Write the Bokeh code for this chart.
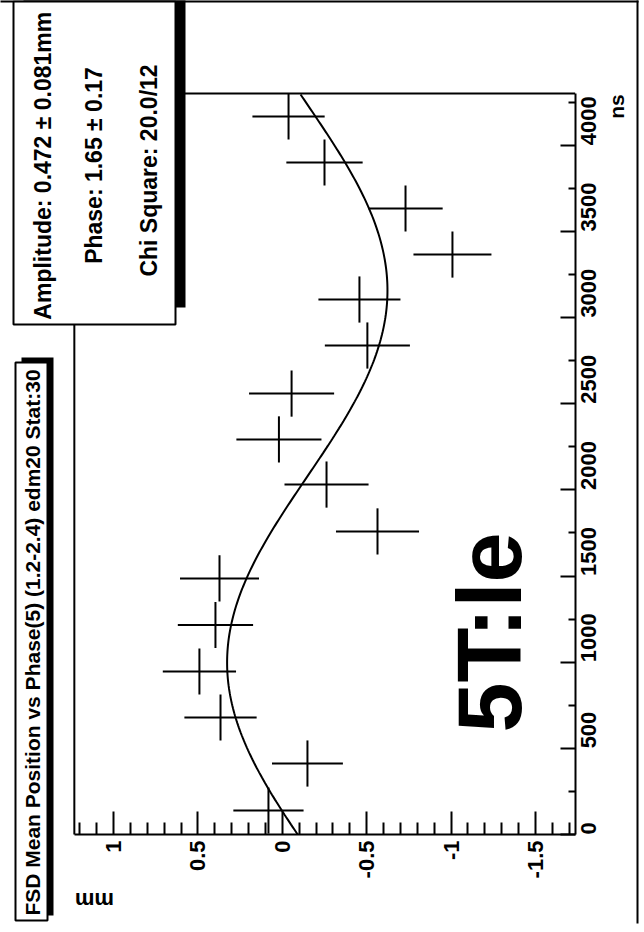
import math
import numpy as np
from bokeh.plotting import figure
from bokeh.models import Range1d, FixedTicker, Label, BoxAnnotation
from bokeh.embed import file_html
from bokeh.resources import INLINE

# ---------------- data ----------------
ns = [139, 412, 679, 946, 1216, 1486, 1759, 2031, 2293, 2559, 2838, 3105, 3366, 3633, 3900, 4167]
ns_err = [134, 134, 134, 134, 134, 134, 134, 134, 134, 134, 134, 134, 134, 134, 134, 134]
mm = [0.082, -0.149, 0.366, 0.491, 0.396, 0.372, -0.564, -0.262, 0.020, -0.055,
      -0.504, -0.457, -1.008, -0.730, -0.250, -0.037]
mm_err = [0.208, 0.210, 0.214, 0.217, 0.223, 0.234, 0.246, 0.249, 0.252, 0.252,
          0.252, 0.243, 0.231, 0.220, 0.226, 0.214]

mm_ticks = [1, 0.5, 0, -0.5, -1, -1.5]
mm_tick_labels = ["1", "0.5", "0", "-0.5", "-1", "-1.5"]
mm_minor = [-1.7, -1.6, -1.4, -1.3, -1.2, -1.1, -0.9, -0.8, -0.7, -0.6, -0.4, -0.3,
            -0.2, -0.1, 0.1, 0.2, 0.3, 0.4, 0.6, 0.7, 0.8, 0.9, 1.1, 1.2]
ns_ticks = [0, 500, 1000, 1500, 2000, 2500, 3000, 3500, 4000]
ns_tick_labels = ["0", "500", "1000", "1500", "2000", "2500", "3000", "3500", "4000"]
ns_minor = [250, 750, 1250, 1750, 2250, 2750, 3250, 3750, 4250]

# plot box limits (axis extents)
mm_min, mm_max = -1.735, 1.232
ns_min, ns_max = 0, 4300

# fit function parameters (curve drawn as in the picture)
fit_offset = -0.148
fit_amplitude = 0.475
fit_period = 4320.0
fit_phase = 0.12
fit_t = np.linspace(0, 4295, 300)
fit_mm = fit_offset + fit_amplitude * np.sin(2 * math.pi * fit_t / fit_period + fit_phase)

title_text = "FSD Mean Position vs Phase(5) (1.2-2.4) edm20 Stat:30"
stat_lines = ["Amplitude: 0.472 \u00b1  0.081mm", "Phase: 1.65 \u00b1 0.17", "Chi Square: 20.0/12"]
note_text = "5T:le"

FONT = "Liberation Sans"

# ---------------- layout ----------------
W, H = 640, 928
# page pixel of value 0 mm and pixels per mm; page pixel of 0 ns and pixels per ns
X0, XS = 281.8, 168.8
Y0, YS = 834.0, 0.1723


def sx(px):
    return px


def sy(py):
    return H - py


p = figure(width=W, height=H, output_backend="svg", toolbar_location=None,
           x_range=Range1d(X0 / XS, (X0 - W) / XS),
           y_range=Range1d((Y0 - H) / YS, Y0 / YS),
           x_axis_location="below", y_axis_location="right")
p.min_border = 0
p.min_border_left = 0
p.min_border_right = 0
p.min_border_top = 0
p.min_border_bottom = 0
p.background_fill_color = "white"
p.border_fill_color = "white"
p.outline_line_color = None
p.xgrid.visible = False
p.ygrid.visible = False

xa = p.xaxis[0]
xa.fixed_location = ns_min
xa.bounds = (mm_min, mm_max)
xa.ticker = FixedTicker(ticks=mm_ticks, minor_ticks=mm_minor)
xa.major_label_overrides = {t: l for t, l in zip(mm_ticks, mm_tick_labels)}
xa.major_label_orientation = math.pi / 2
xa.major_tick_in = 23
xa.major_tick_out = 0
xa.minor_tick_in = 12
xa.minor_tick_out = 0
xa.major_label_standoff = 6

ya = p.yaxis[0]
ya.fixed_location = mm_min
ya.bounds = (ns_min, ns_max)
ya.ticker = FixedTicker(ticks=ns_ticks, minor_ticks=ns_minor)
ya.major_label_overrides = {t: l for t, l in zip(ns_ticks, ns_tick_labels)}
ya.major_label_orientation = math.pi / 2
ya.major_tick_in = 15
ya.major_tick_out = 0
ya.minor_tick_in = 7
ya.minor_tick_out = 0
ya.major_label_standoff = 13

for ax in (xa, ya):
    ax.axis_line_width = 2
    ax.axis_line_color = "black"
    ax.major_tick_line_width = 2
    ax.minor_tick_line_width = 2
    ax.major_tick_line_color = "black"
    ax.minor_tick_line_color = "black"
    ax.major_label_text_font = FONT
    ax.major_label_text_font_size = "22px"
    ax.major_label_text_font_style = "bold"
    ax.major_label_text_color = "black"

# plot box: left and top edges
p.line(x=[mm_max, mm_max, mm_min], y=[ns_min, ns_max, ns_max], line_color="black", line_width=2)

# data crosses
mm_lo = [m - e for m, e in zip(mm, mm_err)]
mm_hi = [m + e for m, e in zip(mm, mm_err)]
ns_lo = [t - e for t, e in zip(ns, ns_err)]
ns_hi = [t + e for t, e in zip(ns, ns_err)]
p.segment(x0=mm_lo, x1=mm_hi, y0=ns, y1=ns, line_color="black", line_width=2)
p.segment(x0=mm, x1=mm, y0=ns_lo, y1=ns_hi, line_color="black", line_width=2)

# fit curve
p.line(x=fit_mm, y=fit_t, line_color="black", line_width=2)


def box(left, right, top, bottom, fill, line):
    b = BoxAnnotation(left=sx(left), right=sx(right), top=sy(top), bottom=sy(bottom),
                      left_units="screen", right_units="screen",
                      top_units="screen", bottom_units="screen",
                      fill_color=fill, fill_alpha=1.0,
                      line_color=line, line_width=2, line_alpha=1.0)
    p.add_layout(b)


def label(px, py, text, size, angle, style="bold"):
    lab = Label(x=sx(px), y=sy(py), x_units="screen", y_units="screen", text=text,
                angle=angle, text_align="center", text_baseline="middle",
                text_font=FONT, text_font_size=size, text_font_style=style,
                text_color="black")
    p.add_layout(lab)


# page border (top and right)
box(-5, 638, -5, 2, "black", None)
box(636, 638, -5, 923, "black", None)

# stat box with shadow
box(23, 185, -5, 307, "black", None)
box(13, 175, 1, 324, "white", "black")
label(42, 162, stat_lines[0], "23px", math.pi / 2)
label(93, 165, stat_lines[1], "23px", math.pi / 2)
label(148, 170, stat_lines[2], "23px", math.pi / 2)

# title box with shadow
box(21, 53, 357, 915, "black", None)
box(15, 47, 362, 920, "white", "black")
label(32, 642, title_text, "21px", math.pi / 2)

# axis titles
label(94, 900, "mm", "22px", math.pi)
label(616, 106, "ns", "21px", math.pi / 2)

# handwritten note
label(489, 632, note_text, "90px", math.pi / 2)

open("out.html", "w").write(file_html(p, INLINE))
